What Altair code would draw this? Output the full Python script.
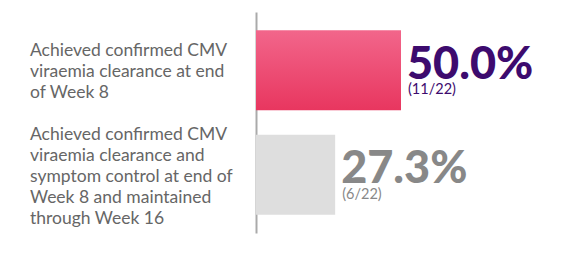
import altair as alt
import pandas as pd

categories = ["week8", "week16"]
labels = [
    "Achieved confirmed CMV\nviraemia clearance at end\nof Week 8",
    "Achieved confirmed CMV\nviraemia clearance and\nsymptom control at end of\nWeek 8 and maintained\nthrough Week 16",
]
values = [50.0, 27.3]
counts = ["(11/22)", "(6/22)"]
text_colors = ["#3d0b6e", "#888888"]

df = pd.DataFrame({
    "cat": categories,
    "label": labels,
    "value": values,
    "pct": [f"{v:.1f}%" for v in values],
    "count": counts,
})

y_enc = alt.Y(
    "cat:N",
    sort=categories,
    scale=alt.Scale(paddingInner=0.234, paddingOuter=0.174),
    axis=alt.Axis(labels=False, ticks=False, title=None, grid=False,
                  domainColor="#aaaaaa", domainWidth=2),
)
x_enc = alt.X("value:Q", scale=alt.Scale(domain=[0, 100]), axis=None)
color_enc = alt.Color("cat:N", scale=alt.Scale(domain=categories, range=text_colors), legend=None)

base = alt.Chart(df)

pink = alt.Gradient(
    gradient="linear",
    stops=[alt.GradientStop(color="#f2668b", offset=0),
           alt.GradientStop(color="#e8365f", offset=1)],
    x1=0, x2=0, y1=0, y2=1,
)

bar1 = base.transform_filter(alt.datum.cat == "week8").mark_bar(color=pink).encode(x=x_enc, y=y_enc)
bar2 = base.transform_filter(alt.datum.cat == "week16").mark_bar(color="#dedede").encode(x=x_enc, y=y_enc)

LH = 21
left_layers = []
for cat, lab in zip(categories, labels):
    n = lab.count("\n") + 1
    left_layers.append(
        base.transform_filter(alt.datum.cat == cat).mark_text(
            align="left", baseline="middle", lineBreak="\n", lineHeight=LH,
            font="Lato", fontSize=17.5, color="#666666", dy=2 - (n - 1) * LH / 2,
        ).encode(x=alt.value(-226), y=y_enc, text="label:N")
    )

pct = base.mark_text(
    align="left", baseline="alphabetic", font="Lato", fontSize=45, fontWeight=900,
    dx=6, dy=8.5,
).encode(x=x_enc, y=y_enc, text="pct:N", color=color_enc)

cnt = base.mark_text(
    align="left", baseline="alphabetic", font="Lato", fontSize=14.5,
    dx=7, dy=24,
).encode(x=x_enc, y=y_enc, text="count:N", color=color_enc)

chart = alt.layer(bar1, bar2, *left_layers, pct, cnt).properties(
    width=290, height=221,
    autosize=alt.AutoSizeParams(type="none"),
    padding={"left": 256, "top": 12, "right": 20, "bottom": 23},
    background="white",
).configure_view(stroke=None)

chart.save("out.html", embed_options={"renderer": "svg", "actions": False})
